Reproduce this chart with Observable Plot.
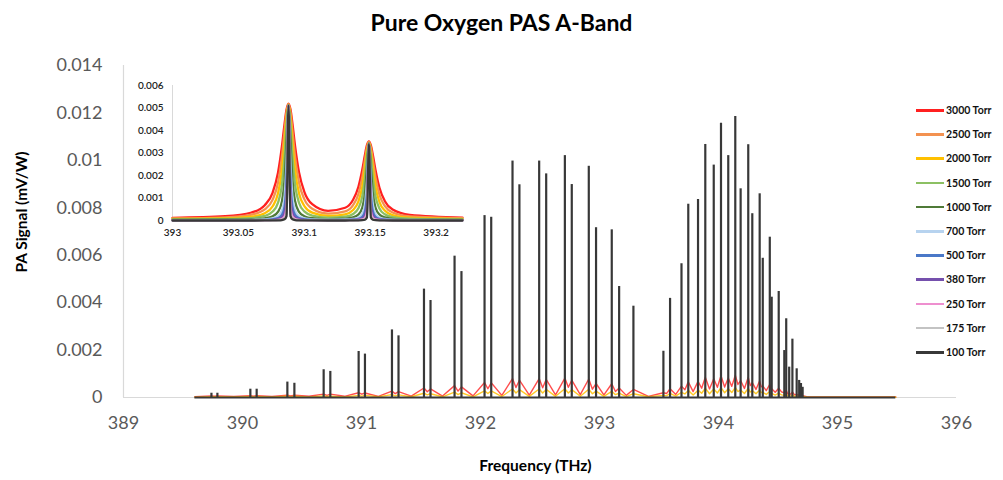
<!DOCTYPE html>
<html>
<head>
<meta charset="utf-8">
<script src="https://cdn.jsdelivr.net/npm/d3@7"></script>
<script src="https://cdn.jsdelivr.net/npm/@observablehq/plot@0.6"></script>
<style>
  html, body { margin: 0; padding: 0; background: #fff; }
  #root { position: relative; width: 1003px; height: 480px; font-family: Lato, "Open Sans", sans-serif; overflow: hidden; }
  .abs { position: absolute; }
  #title { left: 0; width: 1003px; top: 8px; text-align: center; font-weight: 700; font-size: 23px; color: #000; }
  #xtitle { left: 0; width: 1003px; top: 456px; text-align: center; font-weight: 700; font-size: 15.5px; color: #000; padding-left: 68px; box-sizing: border-box; }
  #ytitle { left: 21px; top: 212px; transform: translate(-50%, -50%) rotate(-90deg); white-space: nowrap; font-weight: 700; font-size: 15.5px; color: #000; }
  .leg { position: absolute; left: 916px; height: 14px; line-height: 14px; font-size: 10.5px; font-weight: 700; color: #111; white-space: nowrap; }
  .leg span.sw { display: inline-block; width: 28px; height: 2.6px; vertical-align: middle; margin-right: 2px; position: relative; top: -1px; }
</style>
</head>
<body>
<div id="root">
  <div id="main" class="abs" style="left:0;top:0"></div>
  <div id="inset" class="abs" style="left:120px;top:70px"></div>
  <div id="title" class="abs">Pure Oxygen PAS A-Band</div>
  <div id="xtitle" class="abs">Frequency (THz)</div>
  <div id="ytitle" class="abs">PA Signal (mV/W)</div>
  <div id="legend"></div>
</div>
<script>
// ---------- Main chart data (100 Torr line list) ----------
const lineFreq = [389.739, 389.789, 390.066, 390.119, 390.377, 390.436, 390.682, 390.738, 390.976, 391.029,
  391.256, 391.311, 391.525, 391.580, 391.782, 391.840,
  392.034, 392.090, 392.269, 392.327, 392.493, 392.552, 392.709, 392.767, 392.910, 392.971, 393.103, 393.165, 393.285,
  393.537, 393.593, 393.689, 393.746, 393.828, 393.889, 393.960, 394.021, 394.082, 394.141, 394.186, 394.250, 394.284,
  394.346, 394.372, 394.431, 394.447, 394.506, 394.553, 394.569, 394.594, 394.621, 394.657, 394.678, 394.693, 394.707];
const peak100 = [0.00018, 0.00018, 0.00035, 0.00035, 0.00065, 0.0006, 0.00117, 0.0011, 0.00194, 0.00183,
  0.00285, 0.0026, 0.00457, 0.00409, 0.00596, 0.00531,
  0.00767, 0.0076, 0.00997, 0.00897, 0.00997, 0.00943, 0.0102, 0.00898, 0.00975, 0.00716, 0.00707, 0.00468, 0.00385,
  0.00195, 0.00418, 0.00564, 0.00815, 0.00835, 0.01067, 0.0098, 0.01157, 0.0102, 0.01185, 0.0088, 0.01066, 0.00775,
  0.00859, 0.00587, 0.00676, 0.00423, 0.00447, 0.00198, 0.00332, 0.00128, 0.00246, 0.00121, 0.00072, 0.00059, 0.00043];
const baselineRange = [389.60, 395.49];
// high-pressure wings visible at the foot of the lines (read at line positions and in the gaps between them)
const wing3000AtLine = [.00007,.00007,.00008,.00008,.0001,.0001,.00014,.00014,.0002,.00019,
  .00027,.00025,.0004,.00036,.0005,.00045,.00063,.00062,.0008,.00073,
  .0008,.00076,.00082,.00073,.00078,.00059,.00058,.0004,.00034,.0002,
  .00037,.00048,.00066,.00068,.00085,.00079,.00092,.00082,.00094,.00071,
  .00085,.00063,.0007,.00049,.00056,.00037,.00039,.0002,.0003,.00015,
  .00024,.00014,.00011,.0001,.00008];
const wing2000AtLine = [.00003,.00003,.00004,.00004,.00005,.00005,.00007,.00006,.00009,.00009,
  .00012,.00011,.00018,.00016,.00023,.0002,.00028,.00028,.00036,.00033,
  .00036,.00034,.00037,.00033,.00035,.00027,.00026,.00018,.00016,.00009,
  .00017,.00022,.0003,.00031,.00039,.00036,.00042,.00037,.00043,.00032,
  .00039,.00029,.00032,.00022,.00025,.00017,.00018,.00009,.00014,.00007,
  .00011,.00007,.00005,.00005,.00004];
const gapFreq = [389.60, 389.764, 389.9275, 390.0925, 390.248, 390.4065, 390.559, 390.710, 390.857, 391.0025,
  391.1425, 391.2835, 391.418, 391.5525, 391.681, 391.811, 391.937, 392.062, 392.1795, 392.298,
  392.41, 392.5225, 392.6305, 392.738, 392.8385, 392.9405, 393.037, 393.134, 393.225, 393.411,
  393.565, 393.641, 393.7175, 393.787, 393.8585, 393.9245, 393.9905, 394.0515, 394.1115, 394.1635,
  394.218, 394.267, 394.315, 394.359, 394.4015, 394.439, 394.4765, 394.5295, 394.561, 394.5815,
  394.6075, 394.639, 394.6675, 394.6855, 394.700, 394.74, 395.49];
const wing3000Gap = [.00003,.00005,.00004,.00006,.00004,.00007,.00005,.00009,.00005,.00014,
  .00005,.00016,.00006,.00024,.00006,.00027,.00007,.00037,.00009,.00042,
  .0001,.00041,.00011,.00043,.00012,.00035,.00011,.00025,.00009,.00005,
  .00017,.00013,.00033,.00025,.00039,.00036,.00043,.00044,.00047,.00055,
  .00038,.0005,.00034,.00045,.00029,.00035,.00022,.00024,.00019,.00016,
  .00014,.00011,.00009,.00008,.00006,.00003,.00002];
const wing2000Gap = [.00001,.00003,.00002,.00003,.00002,.00003,.00002,.00004,.00002,.00006,
  .00003,.00007,.00003,.00011,.00003,.00012,.00003,.00017,.00004,.00019,
  .00005,.00019,.00005,.00019,.00005,.00016,.00005,.00012,.00004,.00003,
  .00008,.00006,.00015,.00011,.00018,.00016,.00019,.0002,.00021,.00025,
  .00017,.00023,.00016,.00021,.00013,.00016,.0001,.00011,.00009,.00007,
  .00006,.00005,.00004,.00004,.00003,.00002,.00001];
const xTicks = [389, 390, 391, 392, 393, 394, 395, 396];
const yTicks = [0, 0.002, 0.004, 0.006, 0.008, 0.01, 0.012, 0.014];

// ---------- Legend ----------
const pressures = ["3000 Torr", "2500 Torr", "2000 Torr", "1500 Torr", "1000 Torr", "700 Torr", "500 Torr", "380 Torr", "250 Torr", "175 Torr", "100 Torr"];
const colors = ["#ff2020", "#f39250", "#ffc000", "#8cc063", "#4f7a38", "#b7d3ef", "#4a78c8", "#7550ad", "#ee8fcf", "#c3c3c3", "#383838"];

// ---------- Inset data (zoom 393.00–393.22 THz) ----------
const insetFreq = [393.000, 393.040, 393.060, 393.070, 393.076, 393.080, 393.083, 393.085, 393.0865, 393.088,
  393.0895, 393.091, 393.093, 393.096, 393.100, 393.106, 393.118, 393.131, 393.137, 393.141, 393.144, 393.146,
  393.1475, 393.149, 393.1505, 393.152, 393.154, 393.157, 393.161, 393.167, 393.180, 393.220];
const s3000 = [.00012,.00019,.000355,.00068,.001244,.002118,.003297,.004299,.004938,.005198,.004942,.004306,.003309,.002138,.001276,.000724,.000432,.000566,.000919,.001488,.002264,.002926,.003348,.003517,.003343,.002915,.002245,.001457,.000871,.000486,.00025,.00013];
const s2500 = [.000094,.000142,.000262,.000495,.000928,.001667,.002819,.003971,.00481,.005176,.004813,.003976,.002827,.001681,.00095,.000524,.00031,.00041,.000684,.001166,.001928,.002692,.003248,.00349,.003244,.002684,.001915,.001145,.000651,.000355,.000185,.0001];
const s2000 = [.00007,.0001,.000175,.000325,.000632,.001196,.002222,.003485,.004603,.005157,.004605,.003489,.002228,.001205,.000646,.000349,.000207,.000275,.000466,.000835,.001516,.002355,.003098,.003465,.003095,.00235,.001508,.000822,.000445,.000239,.000125,.00007];
const s1500 = [.000048,.000066,.00011,.000202,.000396,.00078,.001586,.002831,.004267,.00514,.004267,.002833,.001589,.000785,.000404,.000216,.000129,.000171,.000292,.000544,.00108,.001909,.002864,.003445,.002862,.001906,.001075,.000536,.000279,.00015,.00008,.000048];
const s1000 = [.000028,.000036,.000055,.000098,.000189,.000383,.000851,.001807,.003505,.005124,.003506,.001808,.000852,.000385,.000193,.000104,.000064,.000083,.000141,.000268,.00058,.001216,.002348,.003427,.002347,.001215,.000578,.000264,.000136,.000074,.000042,.000028];
const s700 = [.000017,.000021,.000031,.000051,.000095,.00019,.000438,.001037,.002567,.005117,.002567,.001037,.000438,.000191,.000097,.000054,.000036,.000045,.000072,.000134,.0003,.000698,.001718,.003418,.001718,.000698,.000299,.000132,.00007,.00004,.000024,.000017];
const s500 = [.000011,.000013,.000018,.00003,.000053,.000106,.000246,.000615,.001794,.005111,.001794,.000615,.000246,.000106,.000054,.000031,.000021,.000026,.000041,.000075,.000169,.000415,.001201,.003412,.001201,.000415,.000168,.000074,.00004,.000024,.000015,.000011];
const s380 = [.0000076,.0000086,.0000115,.0000176,.00003,.000058,.000135,.000347,.001137,.005108,.001137,.000347,.000135,.000059,.000031,.000019,.000013,.000016,.000023,.000042,.000093,.000234,.000761,.003408,.000761,.000234,.000093,.000042,.000023,.000015,.00001,.0000075];
const s250 = [.0000055,.000006,.000007,.00001,.000016,.000029,.000066,.000171,.000609,.005105,.000609,.000171,.000066,.000029,.000016,.00001,.000007,.000009,.000013,.000022,.000046,.000117,.000409,.003406,.000409,.000117,.000046,.000022,.000013,.000009,.000006,.0000055];
const s175 = [.000003,.0000034,.000004,.0000055,.0000087,.000016,.000036,.000092,.000342,.005103,.000342,.000092,.000036,.000016,.000009,.000006,.000004,.0000047,.0000068,.000012,.000025,.000063,.000229,.003403,.000229,.000063,.000025,.000012,.0000068,.0000047,.0000035,.000003];
const s100 = [0,.0000002,.0000006,.0000014,.0000032,.0000072,.0000183,.0000505,.000196,.0051,.000196,.0000505,.0000183,.0000072,.0000032,.0000015,.0000006,.0000009,.0000021,.0000048,.0000122,.0000337,.000131,.0034,.000131,.0000337,.0000122,.0000048,.0000021,.0000009,.0000003,0];
const insetXTicks = [393, 393.05, 393.1, 393.15, 393.2];
const insetYTicks = [0, 0.001, 0.002, 0.003, 0.004, 0.005, 0.006];

// ---------- Build tables ----------
const lines = lineFreq.map((f, i) => ({f, h: peak100[i]}));
function wingTable(atLine, atGap) {
  const t = lineFreq.map((f, i) => ({f, v: atLine[i]})).concat(gapFreq.map((f, i) => ({f, v: atGap[i]})));
  return t.sort((a, b) => a.f - b.f);
}
const wing3000 = wingTable(wing3000AtLine, wing3000Gap);
const wing2000 = wingTable(wing2000AtLine, wing2000Gap);
const insetSeries = [s3000, s2500, s2000, s1500, s1000, s700, s500, s380, s250, s175, s100];
const insetData = [];
insetSeries.forEach((arr, k) => arr.forEach((v, i) => insetData.push({p: pressures[k], f: insetFreq[i], v})));
const fmt = d => String(+d.toFixed(4));

// ---------- Main chart ----------
const main = Plot.plot({
  width: 1003, height: 480,
  marginLeft: 123, marginRight: 47, marginTop: 65, marginBottom: 83,
  style: {fontFamily: "Lato, sans-serif", fontSize: "18px", color: "#595959", background: "transparent", overflow: "visible"},
  x: {domain: [389, 396], ticks: xTicks, tickFormat: fmt, tickSize: 0, tickPadding: 19, label: null},
  y: {domain: [0, 0.014], ticks: yTicks, tickFormat: fmt, tickSize: 0, tickPadding: 21, label: null},
  marks: [
    Plot.ruleY([0], {stroke: "#d9d9d9", strokeWidth: 1.2}),
    Plot.ruleX([389], {y1: 0, y2: 0.014, stroke: "#d9d9d9", strokeWidth: 1.2}),
    Plot.line(wing3000, {x: "f", y: "v", stroke: colors[0], strokeWidth: 1.4, strokeOpacity: 0.8}),
    Plot.line(wing2000, {x: "f", y: "v", stroke: colors[2], strokeWidth: 1.4, strokeOpacity: 0.85}),
    Plot.ruleY([{x1: baselineRange[0], x2: baselineRange[1], y: 0}], {x1: "x1", x2: "x2", y: "y", stroke: "#383838", strokeWidth: 2}),
    Plot.ruleX(lines, {x: "f", y1: 0, y2: "h", stroke: "#383838", strokeWidth: 2.2})
  ]
});
document.getElementById("main").appendChild(main);

// ---------- Inset ----------
const inset = Plot.plot({
  width: 360, height: 175,
  marginLeft: 52, marginRight: 18, marginTop: 15, marginBottom: 25,
  style: {fontFamily: "Lato, sans-serif", fontSize: "10px", fontWeight: 600, color: "#222", background: "transparent", overflow: "visible"},
  x: {domain: [393, 393.22], ticks: insetXTicks, tickFormat: fmt, tickSize: 0, tickPadding: 8, label: null},
  y: {domain: [0, 0.006], ticks: insetYTicks, tickFormat: fmt, tickSize: 0, tickPadding: 9, label: null},
  color: {domain: pressures, range: colors},
  marks: [
    Plot.ruleX([393], {y1: 0, y2: 0.006, stroke: "#d9d9d9"}),
    Plot.line(insetData, {x: "f", y: "v", z: "p", stroke: "p", strokeWidth: 2.3, curve: "monotone-x"})
  ]
});
document.getElementById("inset").appendChild(inset);

// ---------- Legend ----------
const leg = document.getElementById("legend");
pressures.forEach((p, k) => {
  const d = document.createElement("div");
  d.className = "leg";
  d.style.top = (110 + k * 24.2 - 7) + "px";
  d.innerHTML = `<span class="sw" style="background:${colors[k]}"></span>${p}`;
  leg.appendChild(d);
});
</script>
</body>
</html>
